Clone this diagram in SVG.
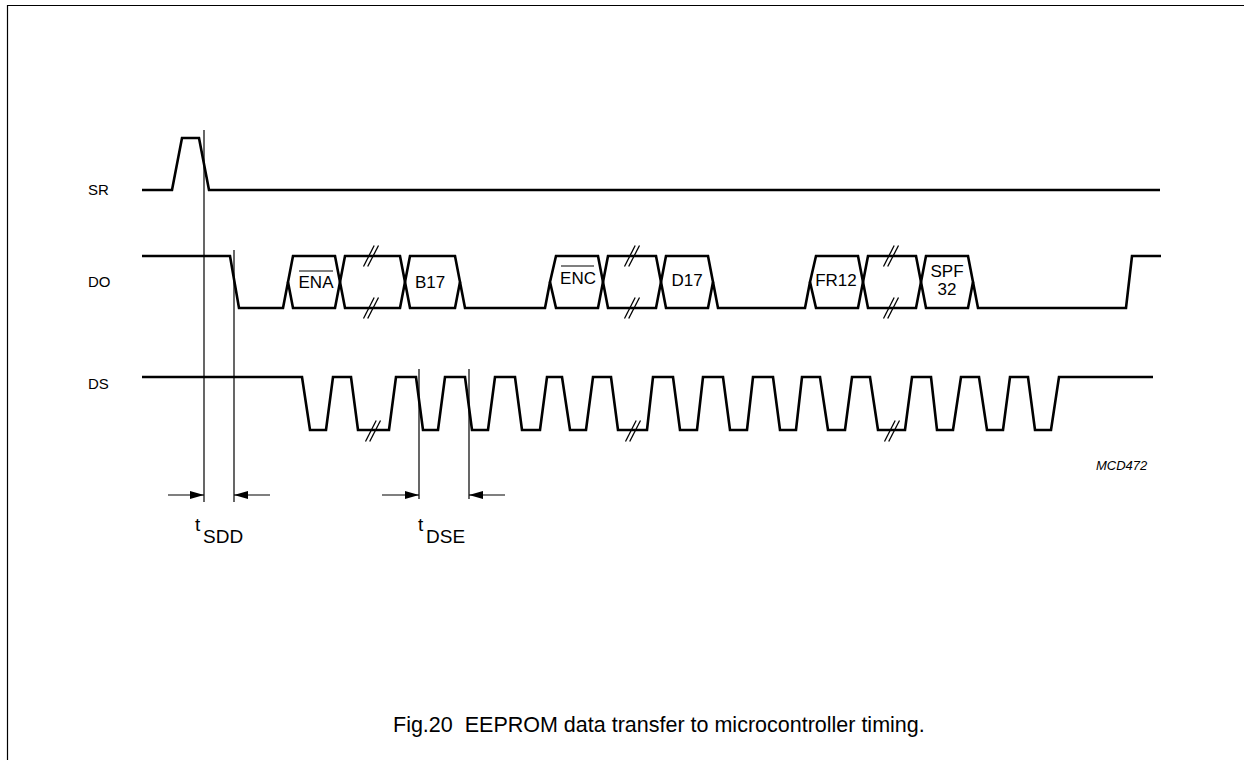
<svg xmlns="http://www.w3.org/2000/svg" xmlns:xlink="http://www.w3.org/1999/xlink" width="1244" height="760" viewBox="0 0 1244 760">
<style>
.w{fill:none;stroke:#000;stroke-width:2.6;stroke-linejoin:miter;stroke-linecap:butt}
.thin{fill:none;stroke:#000;stroke-width:1.2}
.sl{fill:none;stroke:#000;stroke-width:1.3}
.t{font-family:"Liberation Sans",Arial,sans-serif;fill:#000}
.lbl{font-size:15px}
.box{font-size:17px;text-anchor:middle}
.tm{font-size:19px}
.ov{fill:none;stroke:#000;stroke-width:1.2}
</style>
<defs>
<g id="slash"><line class="sl" x1="-7.5" y1="10.5" x2="3.2" y2="-10.5"/><line class="sl" x1="-3.3" y1="10.5" x2="7.5" y2="-10.5"/></g>
<marker id="ah" viewBox="0 0 14 8" refX="14" refY="4" markerWidth="14" markerHeight="8" markerUnits="userSpaceOnUse" orient="auto"><path d="M0,0 L14,4 L0,8 Z" fill="#000"/></marker>
</defs>
<rect width="1244" height="760" fill="#fff"/>
<g id="frame"><path class="thin" d="M7.5,760 V5.5 H1244" stroke-width="1.4"/></g>

<g id="labels" class="t lbl">
<text x="88" y="195">SR</text>
<text x="88" y="287">DO</text>
<text x="88" y="389">DS</text>
</g>

<g id="SR"><path class="w" d="M142,190 H172 L182,138 H199 L209,190 H1160"/></g>

<g id="DO">
<path class="w" d="M142,256 H230 L239,308 H283 L288,282"/>
<path class="w" d="M288,282 L293,256 H335 L340,282 L335,308 H293 Z"/>
<path class="w" d="M340,282 L345,256 H400 L405,282 L400,308 H345 Z"/>
<path class="w" d="M405,282 L410,256 H455 L460,282 L455,308 H410 Z"/>
<path class="w" d="M460,282 L465,308 H545 L550,282"/>
<path class="w" d="M550,282 L556,256 H598 L603,282 L598,308 H556 Z"/>
<path class="w" d="M603,282 L608,256 H656 L661,282 L656,308 H608 Z"/>
<path class="w" d="M661,282 L666,256 H708 L713,282 L708,308 H666 Z"/>
<path class="w" d="M713,282 L718,308 H805 L810,282"/>
<path class="w" d="M810,282 L816,256 H858 L863,282 L858,308 H816 Z"/>
<path class="w" d="M863,282 L868,256 H916 L921,282 L916,308 H868 Z"/>
<path class="w" d="M921,282 L926,256 H968 L973,282 L968,308 H926 Z"/>
<path class="w" d="M973,282 L978,308 H1126 L1132,256 H1161"/>
<use xlink:href="#slash" x="371" y="256"/>
<use xlink:href="#slash" x="371" y="308"/>
<use xlink:href="#slash" x="632" y="256"/>
<use xlink:href="#slash" x="632" y="308"/>
<use xlink:href="#slash" x="891" y="256"/>
<use xlink:href="#slash" x="891" y="308"/>
<g class="t box">
<text x="316" y="288">ENA</text>
<text x="430" y="288">B17</text>
<text x="578" y="284">ENC</text>
<text x="687" y="286">D17</text>
<text x="836" y="286">FR12</text>
<text x="947" y="277">SPF</text>
<text x="947" y="295">32</text>
</g>
<line class="ov" x1="299" y1="271" x2="333" y2="271"/>
<line class="ov" x1="561" y1="266" x2="594" y2="266"/>
</g>

<g id="DS">
<path class="w" d="M142,377 H302 L310,430 H326 L333,377 H351 L358,430 H389 L396,377 H416 L423,430 H438 L445,377 H465 L472,430 H488 L495,377 H515 L522,430 H540 L547,377 H562 L570,430 H586 L593,377 H611 L618,430 H647 L653,377 H673 L680,430 H697 L703,377 H723 L730,430 H747 L753,377 H773 L780,430 H796 L802,377 H820 L828,430 H845 L852,377 H870 L878,430 H905 L912,377 H931 L937,430 H953 L961,377 H979 L987,430 H1003 L1010,377 H1028 L1035,430 H1051 L1059,377 H1153"/>
<use xlink:href="#slash" x="373" y="431"/>
<use xlink:href="#slash" x="633" y="431"/>
<use xlink:href="#slash" x="892" y="431"/>
</g>

<g id="connectors">
<line class="thin" x1="204" y1="130" x2="204" y2="502"/>
<line class="thin" x1="234" y1="250" x2="234" y2="502"/>
<line class="thin" x1="419" y1="369" x2="419" y2="499"/>
<line class="thin" x1="469" y1="369" x2="469" y2="499"/>
<line class="thin" x1="168" y1="495" x2="204" y2="495" marker-end="url(#ah)"/>
<line class="thin" x1="270" y1="495" x2="234" y2="495" marker-end="url(#ah)"/>
<line class="thin" x1="382" y1="495" x2="419" y2="495" marker-end="url(#ah)"/>
<line class="thin" x1="505" y1="495" x2="469" y2="495" marker-end="url(#ah)"/>
</g>

<g id="timing-labels" class="t tm">
<text x="195" y="531">t</text>
<text x="203" y="543">SDD</text>
<text x="418" y="531">t</text>
<text x="426" y="543">DSE</text>
</g>

<text id="code" class="t" x="1096" y="470" font-size="13" font-style="italic">MCD472</text>
<text id="caption" class="t" x="393" y="732" font-size="21.5" xml:space="preserve" style="white-space:pre">Fig.20  EEPROM data transfer to microcontroller timing.</text>
</svg>
